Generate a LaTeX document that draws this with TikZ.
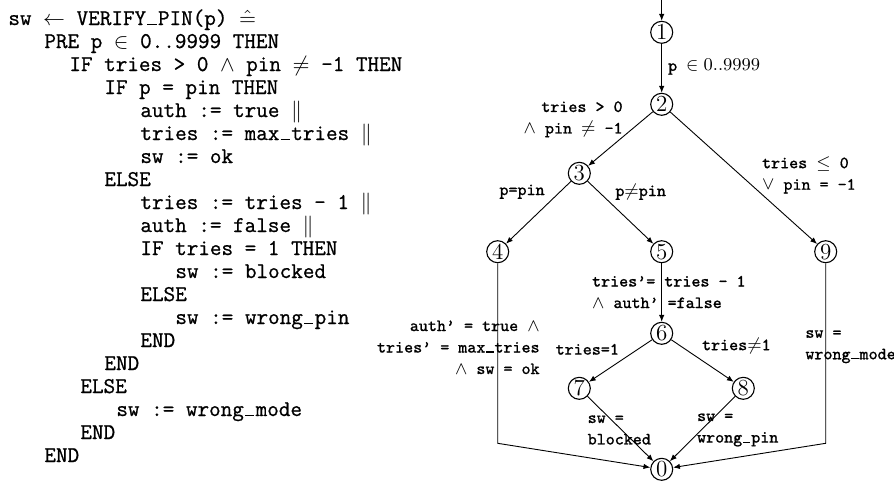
\documentclass[tikz,border=0pt]{standalone}
\usepackage{fontspec}
\setmonofont{Latin Modern Mono}[FakeBold=0.8]
\usetikzlibrary{arrows.meta}
% underscore drawn as a rule sitting on the baseline, one mono cell wide
\newcommand\usc{\makebox[0.525em]{\rule{0.42em}{0.06em}}}
\begin{document}
\begin{tikzpicture}[x=0.5pt,y=-0.5pt,
  codeline/.style={anchor=base west,inner sep=0pt,font=\ttfamily\fontsize{11.25}{11.5}\selectfont},
  vertex/.style={circle,draw,line width=0.55pt,minimum size=11pt,inner sep=0pt,font=\fontsize{11.5}{12}\selectfont},
  lbl/.style={inner sep=0pt,font=\ttfamily\fontsize{8.6}{10.75}\selectfont},
  flow/.style={draw,line width=0.45pt,-{Latex[length=3.4pt,width=2.7pt]}}]
\useasboundingbox (0,0) rectangle (894,484);

% B operation text
\node[codeline] (c1)  at (8,25)   {sw $\leftarrow$ VERIFY\usc PIN(p) $\hat{=}$};
\node[codeline] (c2)  at (44,48)  {PRE p $\in$ 0..9999 THEN};
\node[codeline] (c3)  at (69,71)  {IF tries > 0 $\wedge$ pin $\neq$ -1 THEN};
\node[codeline] (c4)  at (104,94) {IF p = pin THEN};
\node[codeline] (c5)  at (140,117) {auth := true $\|$};
\node[codeline] (c6)  at (140,140) {tries := max\usc tries $\|$};
\node[codeline] (c7)  at (140,163) {sw := ok};
\node[codeline] (c8)  at (104,186) {ELSE};
\node[codeline] (c9)  at (140,209) {tries := tries - 1 $\|$};
\node[codeline] (c10) at (140,232) {auth := false $\|$};
\node[codeline] (c11) at (140,255) {IF tries = 1 THEN};
\node[codeline] (c12) at (175,278) {sw := blocked};
\node[codeline] (c13) at (140,301) {ELSE};
\node[codeline] (c14) at (175,324) {sw := wrong\usc pin};
\node[codeline] (c15) at (140,347) {END};
\node[codeline] (c16) at (104,370) {END};
\node[codeline] (c17) at (80,393)  {ELSE};
\node[codeline] (c18) at (116,416) {sw := wrong\usc mode};
\node[codeline] (c19) at (80,439)  {END};
\node[codeline] (c20) at (44,462)  {END};

% control-flow graph
\node[vertex] (n1) at (661.7,32.3)  {1};
\node[vertex] (n2) at (661.7,104.3) {2};
\node[vertex] (n3) at (579.3,173.3) {3};
\node[vertex] (n4) at (497.7,251.7) {4};
\node[vertex] (n5) at (661.7,251.7) {5};
\node[vertex] (n9) at (825.7,251.7) {9};
\node[vertex] (n6) at (661.7,333.3) {6};
\node[vertex] (n7) at (579.3,388.3) {7};
\node[vertex] (n8) at (743.3,388.3) {8};
\node[vertex] (n0) at (661.7,469.3) {0};

\coordinate (entry) at (661.7,0);
\coordinate (k4) at (497.7,443.3);
\coordinate (k9) at (825.7,443.3);

\path[flow] (entry) -- (n1);
\path[flow] (n1) -- (n2);
\path[flow] (n2) -- (n3);
\path[flow] (n2) -- (n9);
\path[flow] (n3) -- (n4);
\path[flow] (n3) -- (n5);
\path[flow] (n5) -- (n6);
\path[flow] (n6) -- (n7);
\path[flow] (n6) -- (n8);
\path[flow] (n7) -- (n0);
\path[flow] (n8) -- (n0);
\path[flow] (n4) -- (k4) -- (n0);
\path[flow] (n9) -- (k9) -- (n0);

% edge labels
\node[lbl,anchor=west] (l12) at (667.7,67) {p $\in 0..9999$};
\node[lbl,anchor=east,align=right] (l23) at (623,119.3) {tries > 0\\$\wedge$ pin $\neq$ -1};
\node[lbl,anchor=west,align=left] (l29) at (761.7,175) {tries $\leq$ 0\\$\vee$ pin = -1};
\node[lbl,anchor=east] (l34) at (545,191.7) {p=pin};
\node[lbl,anchor=west] (l35) at (615,191.7) {p$\neq$pin};
\node[lbl,anchor=east,align=right] (l40) at (540,347.3) {auth’ = true $\wedge$\\tries’ = max\usc tries\\$\wedge$ sw = ok};
\node[lbl,anchor=west,align=left] (l56) at (591.7,292) {tries’= tries - 1\\$\wedge$ auth’ =false};
\node[lbl,anchor=west,align=left] (l90) at (805,346.7) {sw =\\wrong\usc mode};
\node[lbl,anchor=east] (l67) at (619.3,349.3) {tries=1};
\node[lbl,anchor=west] (l68) at (701.7,345.7) {tries$\neq$1};
\node[lbl,anchor=west,align=left] (l70) at (587.3,430) {sw =\\blocked};
\node[lbl,anchor=west,align=left] (l80) at (696.7,430) {sw =\\wrong\usc pin};
\end{tikzpicture}
\end{document}
